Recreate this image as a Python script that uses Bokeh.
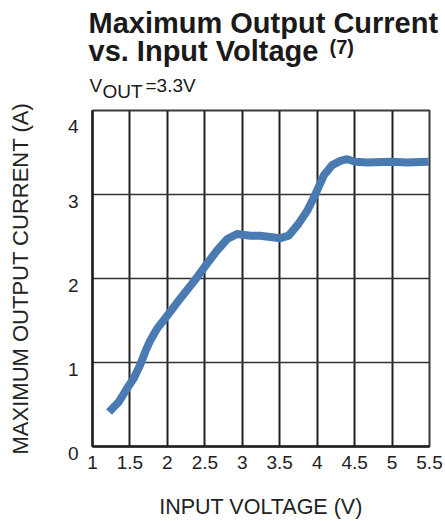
from bokeh.plotting import figure
from bokeh.models import Range1d, FixedTicker
from bokeh.layouts import column, row
from bokeh.core.properties import value
from bokeh.embed import file_html
from bokeh.resources import INLINE

# Input voltage (V) and maximum output current (A) along the curve
vin = [1.22, 1.35, 1.46, 1.55, 1.64, 1.71, 1.77, 1.86, 2.0, 2.17, 2.35, 2.49, 2.66,
       2.80, 2.93, 3.11, 3.24, 3.51, 3.62, 3.75, 3.87, 3.98, 4.09, 4.20, 4.31, 4.40,
       4.51, 4.67, 4.98, 5.2, 5.49]
iout = [0.41, 0.53, 0.69, 0.81, 0.98, 1.14, 1.26, 1.40, 1.56, 1.76, 1.96, 2.13, 2.33,
        2.47, 2.53, 2.51, 2.51, 2.48, 2.51, 2.65, 2.81, 3.01, 3.23, 3.35, 3.40, 3.42,
        3.39, 3.38, 3.39, 3.38, 3.39]

x_ticks = [1, 1.5, 2, 2.5, 3, 3.5, 4, 4.5, 5, 5.5]
x_tick_labels = ["1", "1.5", "2", "2.5", "3", "3.5", "4", "4.5", "5", "5.5"]
y_ticks = [0, 1, 2, 3, 4]
y_tick_labels = ["0", "1", "2", "3", "4"]

X_MIN, X_MAX = 1, 5.5
Y_MIN, Y_MAX = 0, 4

FONT = "Liberation Sans"
DARK = "#222222"
TEXT = "#1a1a1a"

HEADER_H = 101
BODY_H = 420
TOP_PAD = 9
FRAME_H = 336

# ---- heading ----
header = figure(width=445, height=HEADER_H, output_backend="svg", title=None,
                toolbar_location=None, x_range=Range1d(0, 445),
                y_range=Range1d(HEADER_H, 0), x_axis_location=None,
                y_axis_location=None, min_border=0)
header.outline_line_color = None
header.xgrid.visible = False
header.ygrid.visible = False
header.border_fill_color = "white"

heads = [
    # text, x, y, size, style
    ("Maximum Output Current", 88, 22, "29px", "bold"),
    ("vs. Input Voltage", 88, 50, "29px", "bold"),
    ("(7)", 329, 46, "20px", "bold"),
    ("V", 89, 85, "19px", "normal"),
    ("OUT", 102, 90.5, "19px", "normal"),
    ("=3.3V", 145, 85, "19px", "normal"),
]
for t, hx, hy, size, style in heads:
    header.text(x=[hx], y=[hy], text=[t], text_font=value(FONT),
                text_font_size=size, text_font_style=style, text_color=TEXT,
                text_align="left", text_baseline="alphabetic")

# ---- chart ----
p = figure(width=445, height=BODY_H, output_backend="svg", title=None,
           toolbar_location=None, x_range=Range1d(X_MIN, X_MAX),
           y_range=Range1d(Y_MIN, Y_MAX), min_border=0)
p.min_border_left = 92
p.min_border_right = 16
p.min_border_top = TOP_PAD
p.min_border_bottom = BODY_H - TOP_PAD - FRAME_H
p.background_fill_color = "white"
p.border_fill_color = "white"
p.outline_line_color = "#3a3a3a"
p.outline_line_width = 2

for ax in (p.xaxis, p.yaxis):
    ax.axis_line_color = DARK
    ax.axis_line_width = 2.5
    ax.major_tick_line_color = None
    ax.minor_tick_line_color = None
    ax.major_tick_out = 0
    ax.major_tick_in = 0
    ax.major_label_text_font = FONT
    ax.major_label_text_font_size = "19px"
    ax.major_label_text_color = DARK
    ax.axis_label_text_font = FONT
    ax.axis_label_text_font_style = "normal"
    ax.axis_label_text_color = DARK

# x axis
p.xaxis.ticker = FixedTicker(ticks=x_ticks)
p.xaxis.major_label_overrides = dict(zip(x_ticks, x_tick_labels))
p.xaxis.major_label_standoff = 9
p.xaxis.axis_label = "INPUT VOLTAGE (V)"
p.xaxis.axis_label_text_font_size = "21.5px"
p.xaxis.axis_label_standoff = 23

# y axis: an empty first line lets each number hang just below its grid line
p.yaxis.ticker = FixedTicker(ticks=y_ticks)
p.yaxis.major_label_overrides = {t: "\n" + s for t, s in zip(y_ticks, y_tick_labels)}
p.yaxis.major_label_text_line_height = 0.7
p.yaxis.major_label_standoff = 14
p.yaxis.axis_label = "MAXIMUM OUTPUT CURRENT (A)"
p.yaxis.axis_label_text_font_size = "22px"
p.yaxis.axis_label_standoff = 32

# grid
p.xgrid.ticker = FixedTicker(ticks=x_ticks)
p.ygrid.ticker = FixedTicker(ticks=y_ticks)
p.xgrid.grid_line_color = DARK
p.xgrid.grid_line_width = 2
p.ygrid.grid_line_color = "#333333"
p.ygrid.grid_line_width = 1.5

# current curve
p.line(vin, iout, line_color="#4a7ab2", line_width=8, line_cap="butt",
       line_join="round")

layout = column(header, row(p), spacing=0)
open("out.html", "w").write(file_html(layout, INLINE))
